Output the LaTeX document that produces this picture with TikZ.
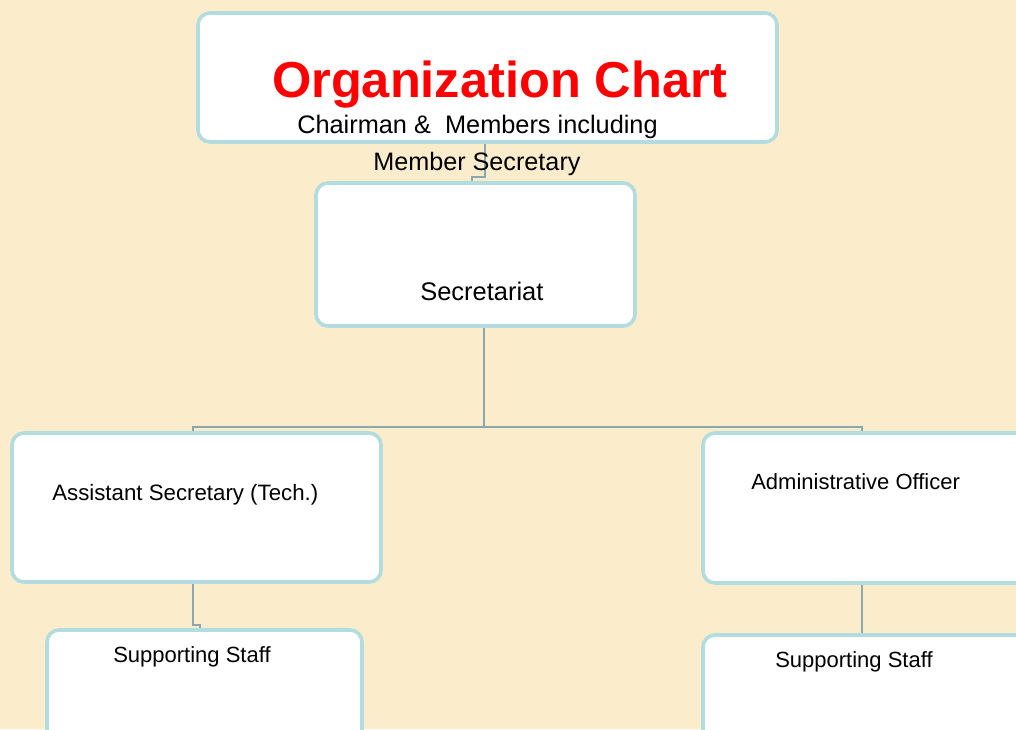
\documentclass[tikz,border=0pt]{standalone}
\usepackage{fontspec}
\setmainfont{Liberation Sans}
\usetikzlibrary{backgrounds}
\pgfdeclarelayer{paper}
\pgfsetlayers{paper,background,main}
\definecolor{bgc}{RGB}{251,236,204}
\definecolor{boxline}{RGB}{178,220,222}
\definecolor{connc}{RGB}{140,168,175}
\definecolor{titlered}{RGB}{255,0,0}
\tikzset{
  box/.style={draw=boxline, line width=2.7pt, fill=white, rounded corners=9pt, rectangle, inner sep=0pt},
  conn/.style={draw=connc, line width=2pt},
  lbl/.style={inner sep=0pt, anchor=base west, text=black},
}
\begin{document}
\begin{tikzpicture}[x=0.75pt,y=-0.75pt]
\useasboundingbox (0,0) rectangle (1016,729);
\clip (0,0) rectangle (1016,729);
\begin{pgfonlayer}{paper}
\fill[bgc] (0,0) rectangle (1016,729);
\end{pgfonlayer}
% boxes
\node[box, minimum width={579*0.75pt}, minimum height={129*0.75pt}] (top) at (487.5,77.5) {};
\node[box, minimum width={319*0.75pt}, minimum height={143*0.75pt}] (sec) at (475.5,254.5) {};
\node[box, minimum width={369*0.75pt}, minimum height={149*0.75pt}] (left) at (196.5,507.5) {};
\node[box, minimum width={367*0.75pt}, minimum height={150*0.75pt}] (right) at (886.5,508) {};
\node[box, minimum width={315*0.75pt}, minimum height={150*0.75pt}] (staffL) at (204.5,705) {};
\node[box, minimum width={367*0.75pt}, minimum height={150*0.75pt}] (staffR) at (886.5,710) {};
% connectors
\coordinate (j1) at (485,177);
\coordinate (j2) at (472,177);
\coordinate (bus) at (484,427);
\coordinate (busL) at (193,427);
\coordinate (busR) at (862,427);
\coordinate (k1) at (193,625);
\coordinate (k2) at (200,625);
\begin{pgfonlayer}{background}
\draw[conn] (j1 |- top.south) -- (j1) -- (j2) -- (j2 |- sec.north);
\draw[conn] (bus |- sec.south) -- (bus);
\draw[conn] (busL |- left.north) -- (busL) -- (busR) -- (busR |- right.north);
\draw[conn] (k1 |- left.south) -- (k1) -- (k2) -- (k2 |- staffL.north);
\draw[conn] (busR |- right.south) -- (busR |- staffR.north);
\end{pgfonlayer}
% texts
\node[inner sep=0pt, anchor=base, text=titlered, font=\bfseries\fontsize{37.9}{44}\selectfont] (title) at (499.5,97) {Organization Chart};
\node[lbl, font=\fontsize{19}{22}\selectfont] (chair) at (297,133) {Chairman \&\ \ Members including};
\node[lbl, font=\fontsize{18.9}{22}\selectfont] (msec) at (373,170) {Member Secretary};
\node[lbl, font=\fontsize{19.1}{22}\selectfont] (sect) at (420,300) {Secretariat};
\node[lbl, font=\fontsize{16.7}{19}\selectfont] (ast) at (52,500) {Assistant Secretary (Tech.)};
\node[lbl, font=\fontsize{16.5}{19}\selectfont] (adm) at (751,489) {Administrative Officer};
\node[lbl, font=\fontsize{16.5}{19}\selectfont] (supL) at (113,662) {Supporting Staff};
\node[lbl, font=\fontsize{16.5}{19}\selectfont] (supR) at (775,667) {Supporting Staff};
\end{tikzpicture}
\end{document}
